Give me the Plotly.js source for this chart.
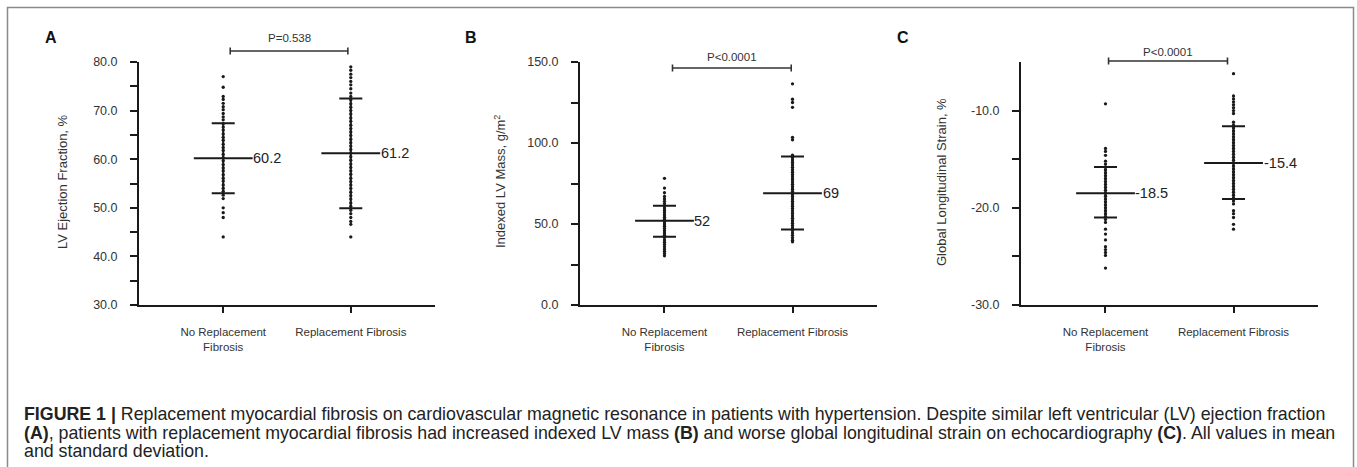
<!DOCTYPE html>
<html>
<head>
<meta charset="utf-8">
<script src="https://cdn.plot.ly/plotly-3.0.1.min.js"></script>
<style>
html,body{margin:0;padding:0;background:#fff;}
#chart{width:1357px;height:467px;}
</style>
</head>
<body>
<div id="chart"></div>
<script>
// ---------- DATA ----------
const categories = ["No Replacement<br>Fibrosis", "Replacement Fibrosis"];

// Panel A: LV Ejection Fraction, %
const efNoFibrosis = [77.0, 74.8, 72.9, 72.3, 71.5, 70.8, 70.2, 69.4, 68.7, 68.1, 67.3, 66.6, 66.0, 65.2, 64.5, 63.9, 63.1, 62.4, 61.8, 61.0, 60.3, 59.7, 58.9, 58.2, 57.6, 56.8, 56.1, 55.5, 54.7, 54.0, 53.4, 52.6, 51.9, 50.0, 49.0, 48.0, 44.0];
const efFibrosis = [79.0, 78.3, 77.5, 76.8, 76.0, 75.3, 74.5, 73.6, 72.9, 72.2, 71.4, 70.7, 70.0, 69.3, 68.5, 67.8, 67.0, 66.3, 65.6, 64.9, 64.1, 63.4, 62.7, 62.0, 61.3, 60.5, 59.8, 59.0, 58.3, 57.6, 56.9, 56.1, 55.4, 54.7, 54.0, 53.2, 52.5, 51.8, 51.0, 50.3, 49.5, 48.8, 48.0, 47.2, 46.6, 44.0];
const efMean = [60.2, 61.2];
const efSdHigh = [67.4, 72.5];
const efSdLow = [53.0, 49.9];
const efLabels = ["60.2", "61.2"];
const efTickVals = [30, 40, 50, 60, 70, 80];
const efTickText = ["30.0", "40.0", "50.0", "60.0", "70.0", "80.0"];
const efMinorTicks = [35, 45, 55, 65, 75];
const efP = "P=0.538";

// Panel B: Indexed LV Mass, g/m2
const massNoFibrosis = [78.2, 72.2, 69.3, 67.0, 65.5, 64.0, 62.6, 61.2, 59.8, 58.4, 57.0, 55.6, 54.2, 52.8, 51.4, 50.0, 48.6, 47.2, 45.8, 44.4, 43.0, 41.6, 40.2, 38.8, 37.4, 36.0, 34.6, 33.2, 31.8, 30.4];
const massFibrosis = [136.5, 127.0, 125.0, 122.0, 103.5, 102.0, 92.5, 91.0, 89.5, 88.0, 86.5, 85.0, 83.5, 82.0, 80.5, 79.0, 77.5, 76.0, 74.5, 73.0, 71.5, 70.0, 68.5, 67.0, 65.5, 64.0, 62.5, 61.0, 59.5, 58.0, 56.5, 55.0, 53.5, 52.0, 50.5, 49.0, 47.5, 46.0, 44.5, 43.0, 41.5, 40.0, 39.0];
const massMean = [52, 69];
const massSdHigh = [61.3, 91.6];
const massSdLow = [42.2, 46.6];
const massLabels = ["52", "69"];
const massTickVals = [0, 50, 100, 150];
const massTickText = ["0.0", "50.0", "100.0", "150.0"];
const massMinorTicks = [25, 75, 125];
const massP = "P<0.0001";

// Panel C: Global Longitudinal Strain, %
const glsNoFibrosis = [-9.3, -13.9, -14.2, -14.6, -15.2, -15.5, -15.8, -16.1, -16.4, -16.7, -17.0, -17.3, -17.6, -17.9, -18.2, -18.5, -18.8, -19.1, -19.4, -19.7, -20.0, -20.3, -20.6, -20.9, -21.2, -21.5, -22.2, -22.7, -23.3, -24.0, -24.3, -24.6, -24.9, -26.2];
const glsFibrosis = [-6.2, -8.5, -8.8, -9.1, -9.4, -9.7, -10.0, -10.3, -11.2, -11.5, -11.8, -12.1, -12.4, -12.7, -13.0, -13.3, -13.6, -13.9, -14.2, -14.5, -14.8, -15.1, -15.4, -15.7, -16.0, -16.3, -16.6, -16.9, -17.2, -17.5, -17.8, -18.1, -18.4, -18.7, -19.0, -19.3, -19.6, -20.3, -20.6, -21.0, -21.7, -22.2];
const glsMean = [-18.5, -15.4];
const glsSdHigh = [-15.8, -11.6];
const glsSdLow = [-21.0, -19.1];
const glsLabels = ["-18.5", "-15.4"];
const glsTickVals = [-30, -20, -10];
const glsTickText = ["-30.0", "-20.0", "-10.0"];
const glsMinorTicks = [-25, -15];
const glsP = "P<0.0001";

const yTitles = ["LV Ejection Fraction, %", "Indexed LV Mass, g/m<sup>2</sup>", "Global Longitudinal Strain, %"];
const panelLetters = ["A", "B", "C"];
const captionLines = [
  "<b>FIGURE 1 |</b> Replacement myocardial fibrosis on cardiovascular magnetic resonance in patients with hypertension. Despite similar left ventricular (LV) ejection fraction",
  "<b>(A)</b>, patients with replacement myocardial fibrosis had increased indexed LV mass <b>(B)</b> and worse global longitudinal strain on echocardiography <b>(C)</b>. All values in mean",
  "and standard deviation."
];

// ---------- BUILD ----------
const W = 1357, H = 467;
const INK = '#1a1a1a';
const panels = [
  {groups:[efNoFibrosis, efFibrosis], mean:efMean, hi:efSdHigh, lo:efSdLow, labels:efLabels, tv:efTickVals, tt:efTickText, mt:efMinorTicks, range:[30,80], p:efP,
   px:[139,435], bracket:[0.055,0.977], by:51, ptx:0.523, pty:38, letterX:51, titleX:63},
  {groups:[massNoFibrosis, massFibrosis], mean:massMean, hi:massSdHigh, lo:massSdLow, labels:massLabels, tv:massTickVals, tt:massTickText, mt:massMinorTicks, range:[0,150], p:massP,
   px:[580,877], bracket:[0.0625,0.99], by:68, ptx:0.53, pty:57, letterX:471, titleX:500},
  {groups:[glsNoFibrosis, glsFibrosis], mean:glsMean, hi:glsSdHigh, lo:glsSdLow, labels:glsLabels, tv:glsTickVals, tt:glsTickText, mt:glsMinorTicks, range:[-30,-5], p:glsP,
   px:[1021,1318], bracket:[0.024,0.953], by:61, ptx:0.49, pty:52, letterX:903, titleX:942}
];
const plotTop = 62, plotBottom = 305;
const py = v => (H - v) / H;

const traces = [];
const layout = {
  width: W, height: H,
  margin: {l:0, r:0, t:0, b:0},
  paper_bgcolor: '#fff', plot_bgcolor: '#fff',
  showlegend: false,
  font: {family: 'Liberation Sans, Arial, sans-serif', color: '#333'},
  annotations: [], shapes: []
};

panels.forEach((p, k) => {
  const sfx = k === 0 ? '' : String(k + 1);
  const xa = 'x' + sfx, ya = 'y' + sfx;
  p.groups.forEach((vals, i) => {
    traces.push({
      type: 'scatter', mode: 'markers', xaxis: xa, yaxis: ya,
      x: vals.map(() => i), y: vals,
      marker: {size: 3.3, color: INK},
      hoverinfo: 'y', cliponaxis: false
    });
  });
  traces.push({
    type: 'scatter', mode: 'markers', xaxis: xa, yaxis: ya,
    x: p.mean.map((m, i) => i), y: p.mean,
    marker: {symbol: 'line-ew', size: 42, color: INK, line: {width: 2, color: INK}},
    error_y: {type: 'data', symmetric: false,
      array: p.mean.map((m, i) => p.hi[i] - m),
      arrayminus: p.mean.map((m, i) => m - p.lo[i]),
      width: 11.5, thickness: 2, color: INK},
    hoverinfo: 'y', cliponaxis: false
  });
  layout['xaxis' + sfx] = {
    domain: [p.px[0] / W, p.px[1] / W], range: [-0.66, 1.66], anchor: ya,
    tickvals: [0, 1], ticktext: categories,
    showline: true, linewidth: 2, linecolor: INK,
    ticks: 'outside', ticklen: 6, tickwidth: 2, tickcolor: INK,
    showgrid: false, zeroline: false, fixedrange: true,
    tickfont: {size: 11.5, color: '#333'}, ticklabelstandoff: 9
  };
  layout['yaxis' + sfx] = {
    domain: [py(plotBottom), py(plotTop)], range: p.range, anchor: xa,
    tickmode: 'array', tickvals: p.tv, ticktext: p.tt,
    minor: {tickmode: 'array', tickvals: p.mt, ticks: 'outside', ticklen: 7, tickwidth: 2, tickcolor: INK, showgrid: false},
    showline: true, linewidth: 2, linecolor: INK,
    ticks: 'outside', ticklen: 7, tickwidth: 2, tickcolor: INK,
    showgrid: false, zeroline: false, fixedrange: true,
    tickfont: {size: 12.5, color: '#333'}, ticklabelstandoff: 10
  };
  // value labels
  p.mean.forEach((m, i) => {
    layout.annotations.push({xref: xa, yref: ya, x: i, y: m, text: p.labels[i], showarrow: false,
      xanchor: 'left', yanchor: 'middle', xshift: 28, font: {size: 14.5, color: '#222'}});
  });
  // p-value
  layout.annotations.push({xref: xa, yref: 'paper', x: p.ptx, y: py(p.pty), text: p.p, showarrow: false,
    xanchor: 'center', yanchor: 'middle', font: {size: 11.5, color: '#333'}});
  // panel letter
  layout.annotations.push({xref: 'paper', yref: 'paper', x: p.letterX / W, y: py(37), text: '<b>' + panelLetters[k] + '</b>',
    showarrow: false, xanchor: 'center', yanchor: 'middle', font: {size: 16, color: '#111'}});
  // y title
  layout.annotations.push({xref: 'paper', yref: 'paper', x: p.titleX / W, y: py(182), text: yTitles[k],
    showarrow: false, textangle: -90, xanchor: 'center', yanchor: 'middle', font: {size: 13, color: '#333'}});
  // bracket
  const lineStyle = {color: '#333', width: 1.6};
  layout.shapes.push({type: 'line', xref: xa, yref: 'paper', x0: p.bracket[0], x1: p.bracket[1], y0: py(p.by), y1: py(p.by), line: lineStyle});
  p.bracket.forEach(bx => {
    layout.shapes.push({type: 'line', xref: xa, yref: 'paper', x0: bx, x1: bx, y0: py(p.by - 3.5), y1: py(p.by + 3.5), line: lineStyle});
  });
});

// frame
layout.shapes.push({type: 'path', xref: 'paper', yref: 'paper',
  path: `M ${7.5/W} -0.05 L ${7.5/W} ${py(7.5)} L ${1353.5/W} ${py(7.5)} L ${1353.5/W} -0.05`,
  line: {color: '#8a8a8a', width: 1.5}});

// caption
const capY = [414, 432.5, 451];
captionLines.forEach((t, i) => {
  layout.annotations.push({xref: 'paper', yref: 'paper', x: 22 / W, y: py(capY[i]), text: t, showarrow: false,
    xanchor: 'left', yanchor: 'middle', align: 'left', font: {size: 17.8, color: '#222'}});
});

Plotly.newPlot('chart', traces, layout, {staticPlot: true, displayModeBar: false});
</script>
</body>
</html>
